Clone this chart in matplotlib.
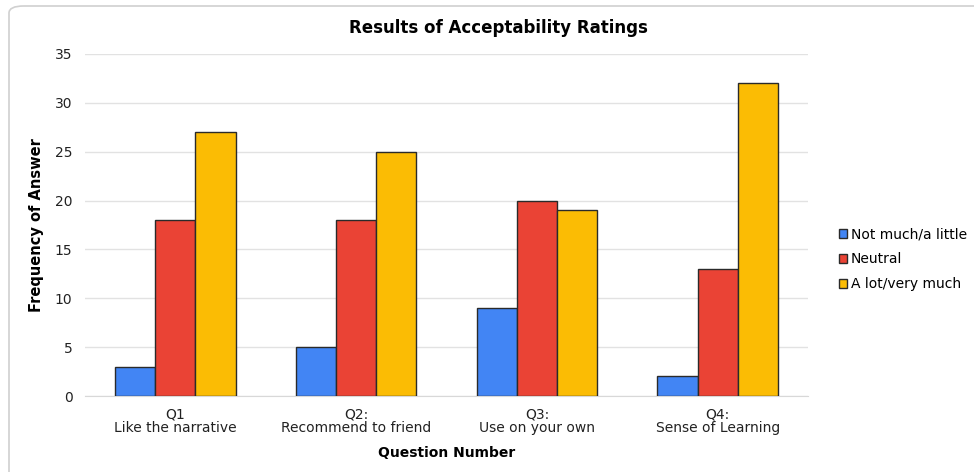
import matplotlib.pyplot as plt
import numpy as np
from matplotlib.patches import FancyBboxPatch

plt.rcParams['font.family'] = ['DejaVu Sans']

# Survey answer counts per question
questions = ["Q1\nLike the narrative", "Q2:\nRecommend to friend",
             "Q3:\nUse on your own", "Q4:\nSense of Learning"]
not_much = [3, 5, 9, 2]
neutral = [18, 18, 20, 13]
a_lot = [27, 25, 19, 32]
series_names = ["Not much/a little", "Neutral", "A lot/very much"]
colors = ["#4285F4", "#EA4335", "#FBBC04"]

fig = plt.figure(figsize=(9.74, 4.72), dpi=100)
ax = fig.add_axes([0.0873, 0.161, 0.7423, 0.7246])

# rounded frame round the whole chart
frame = FancyBboxPatch((9 / 974, -0.1), 1.2, 1.1 - 6 / 472,
                       boxstyle="round,pad=0,rounding_size=0.015",
                       transform=fig.transFigure, fill=False,
                       edgecolor="#d0d0d0", linewidth=1.2, clip_on=False)
fig.patches.append(frame)

x = np.arange(len(questions)) + 0.5
width = 0.222
for i, (vals, name, c) in enumerate(zip([not_much, neutral, a_lot], series_names, colors)):
    ax.bar(x + (i - 1) * width, vals, width, color=c, edgecolor="#2a2a2a",
           linewidth=1.0, label=name, zorder=3)

ax.set_xlim(0, 4)
ax.set_ylim(0, 35)
ax.set_yticks(range(0, 36, 5))
ax.set_xticks(x)
ax.set_xticklabels(questions, fontsize=10, color="#222222", linespacing=1.0)
ax.tick_params(axis="y", labelsize=10, colors="#222222", length=0, pad=9)
ax.tick_params(axis="x", length=0, pad=8)
ax.grid(axis="y", color="#e2e2e2", linewidth=1, zorder=0)
for s in ["top", "right", "left"]:
    ax.spines[s].set_visible(False)
ax.spines["bottom"].set_color("#d8d8d8")

ax.set_xlabel("Question Number", fontsize=10, fontweight="bold", labelpad=8)
ax.set_ylabel("Frequency of Answer", fontsize=10.5, fontweight="bold", labelpad=8)
fig.text(498 / 974, 1 - 28 / 472, "Results of Acceptability Ratings",
         ha="center", va="center", fontsize=12, fontweight="bold")

leg = ax.legend(loc="center left", bbox_to_anchor=(1.035, 0.40), frameon=False,
                fontsize=10, handlelength=0.6, handleheight=0.6,
                handletextpad=0.25, labelspacing=0.8, borderaxespad=0)

fig.savefig("out.png", dpi=100)
